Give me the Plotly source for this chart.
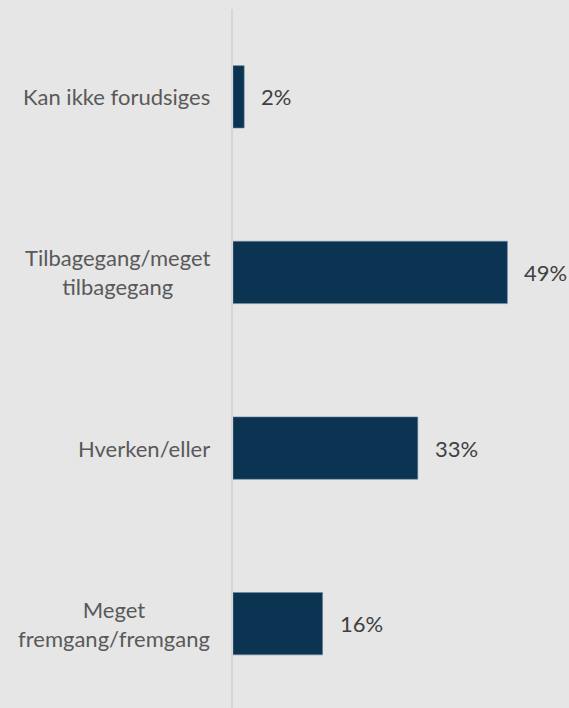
import plotly.graph_objects as go

categories = ["Kan ikke forudsiges", "Tilbagegang/meget<br>tilbagegang",
              "Hverken/eller", "Meget<br>fremgang/fremgang"]
values = [2, 49, 33, 16]
value_labels = ["2%", "49%", "33%", "16%"]

BG = "#e6e6e6"
BAR = "#0b3352"
FONT = "Lato"
FS = 22

fig = go.Figure()
fig.add_trace(go.Bar(
    x=values, y=categories, orientation="h",
    marker=dict(color=BAR, line=dict(color="#6f8aa3", width=0.6)),
    width=0.355, hoverinfo="skip",
))

for c, v, t in zip(categories, values, value_labels):
    fig.add_annotation(x=v, y=c, xref="x", yref="y", text=t, showarrow=False,
                       xanchor="left", yanchor="middle", xshift=15,
                       font=dict(family=FONT, size=FS, color="#404040"))
    fig.add_annotation(x=0, y=c, xref="x", yref="y", text=c, showarrow=False,
                       xanchor="right", yanchor="middle", xshift=-21, align="center",
                       font=dict(family=FONT, size=FS, color="#595959"))

fig.update_layout(
    width=569, height=708,
    margin=dict(l=233, r=0, t=9, b=0),
    paper_bgcolor=BG, plot_bgcolor=BG,
    showlegend=False,
    xaxis=dict(range=[0, 60], visible=False, fixedrange=True),
    yaxis=dict(type="category", categoryorder="array", categoryarray=categories,
               range=[3.48, -0.50], showticklabels=False, showgrid=False,
               zeroline=False, showline=True, linecolor="#d6d6d6", linewidth=1.5,
               ticks="", fixedrange=True),
    bargap=0.6,
)

fig.write_html("out.html", config={"displayModeBar": False},
               post_script="document.body.style.margin='0';document.body.style.background='#e6e6e6';")
